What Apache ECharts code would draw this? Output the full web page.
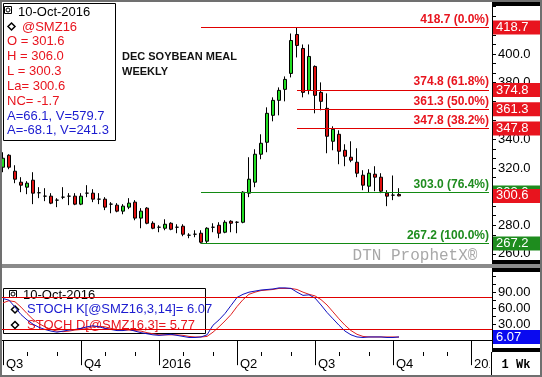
<!DOCTYPE html>
<html>
<head>
<meta charset="utf-8">
<script src="https://cdn.jsdelivr.net/npm/echarts@6/dist/echarts.min.js"></script>
<style>
  html, body { margin: 0; padding: 0; background: #fff; }
  #chart { width: 542px; height: 377px; }
</style>
</head>
<body>
<div id="chart"></div>
<script>
// weekly bars, first week starting Monday 6-Jul-2015
const firstWeek = [2015, 6, 6]
const weekCount = 82

// [open, high, low, close]
const ohlc = [
  [320.7, 331.2, 317.2, 327.0], [329.1, 329.8, 319.3, 320.7], [317.9, 322.1, 309.5, 312.3],
  [310.2, 313.7, 303.2, 308.1], [306.7, 310.9, 301.8, 309.5], [311.6, 317.2, 294.8, 302.5],
  [302.8, 306.7, 299.0, 302.8], [300.4, 306.0, 296.9, 300.4], [300.4, 302.5, 294.8, 295.5],
  [297.6, 299.0, 292.7, 297.6], [299.7, 306.7, 298.3, 299.7], [300.4, 302.5, 294.1, 300.4],
  [300.4, 302.5, 294.1, 294.8], [294.8, 302.5, 294.1, 300.4], [302.5, 308.1, 299.7, 302.5],
  [302.5, 305.3, 296.2, 298.3], [298.3, 302.5, 294.8, 298.3], [298.3, 299.7, 290.6, 292.7],
  [294.8, 296.2, 288.4, 294.8], [294.1, 295.5, 289.1, 289.9], [289.9, 294.8, 287.7, 293.4],
  [292.7, 299.0, 291.3, 295.5], [296.2, 297.6, 283.5, 285.0], [285.0, 292.0, 277.9, 289.9],
  [292.0, 292.7, 280.7, 281.4], [281.4, 282.8, 277.2, 277.9], [278.6, 280.0, 275.1, 278.6],
  [277.9, 284.2, 276.5, 280.7], [281.4, 282.1, 276.5, 277.2], [278.6, 280.7, 274.4, 278.6],
  [279.3, 280.7, 272.3, 273.7], [273.0, 274.4, 270.9, 273.0], [273.7, 276.5, 271.6, 273.7],
  [274.4, 276.5, 267.2, 268.1], [268.8, 278.6, 267.4, 277.9], [278.6, 281.4, 275.1, 278.6],
  [280.0, 282.1, 270.9, 274.4], [275.1, 283.5, 274.4, 282.1], [282.8, 283.5, 275.1, 281.4],
  [282.1, 282.8, 274.4, 282.1], [282.1, 303.9, 281.4, 303.2], [302.5, 327.7, 299.7, 312.3],
  [310.2, 333.3, 306.7, 329.8], [329.8, 343.8, 326.3, 337.5], [338.2, 362.7, 331.2, 358.5],
  [357.1, 369.7, 352.9, 367.6], [367.6, 376.7, 357.1, 374.6], [375.3, 384.4, 366.9, 382.3],
  [386.5, 414.5, 383.7, 409.6], [413.8, 418.7, 397.7, 406.1], [404.0, 406.8, 369.7, 373.2],
  [374.6, 406.8, 371.8, 398.4], [391.4, 392.1, 358.5, 371.1], [373.2, 380.2, 360.6, 366.9],
  [362.0, 372.5, 330.5, 342.4], [338.9, 349.4, 332.6, 347.3], [343.8, 346.6, 322.8, 331.9],
  [332.6, 336.8, 321.4, 328.4], [327.7, 338.9, 324.2, 325.6], [324.2, 334.0, 313.7, 316.5],
  [315.1, 318.6, 304.6, 308.1], [307.4, 319.3, 303.2, 316.5], [315.8, 321.4, 303.9, 313.7],
  [313.7, 316.5, 302.5, 303.9], [302.5, 304.6, 293.4, 300.4], [301.1, 314.9, 297.6, 301.1],
  [301.6, 306.0, 300.3, 300.6]
]

const stochK = [
  78, 75, 62, 48, 38, 30, 24, 20, 17, 15, 17, 19, 20, 22, 25, 27, 25, 22, 20, 18,
  18, 20, 17, 14, 12, 10, 9, 10, 11, 9, 7, 5, 5, 6, 10, 28, 38, 50, 65, 80,
  86, 90, 92, 94, 95, 96, 98, 98, 97, 90, 84, 85, 79, 66, 52, 40, 28, 17, 10, 6,
  5, 6, 6, 6, 5, 5, 6.07
]
const stochD = [
  70, 74, 72, 62, 50, 39, 31, 25, 20, 17, 16, 17, 19, 20, 22, 25, 26, 25, 22, 20,
  19, 19, 18, 17, 14, 12, 10, 10, 10, 10, 9, 7, 6, 6, 7, 15, 25, 36, 48, 63,
  76, 86, 90, 93, 94, 95, 97, 97, 97, 95, 90, 86, 83, 76, 66, 53, 40, 28, 18, 11,
  7, 6, 6, 6, 6, 6, 5.77
]

const fibLevels = [418.7, 374.8, 361.3, 347.8, 303.0, 267.2]
const fibPercents = ['0.0%', '61.8%', '50.0%', '38.2%', '76.4%', '100.0%']
const fibStart = [33, 49, 49, 49, 33, 33]
const lastPrice = 300.6
const stochLast = 6.07
const stochBands = [80, 20]

const priceLabels = [260, 280, 300, 320, 340, 360, 380, 400]
const stochLabels = [0, 30, 60, 90]
const quarterIdx = [0, 13, 26, 39, 52, 65, 78]
const quarterLabels = ['Q3', 'Q4', '2016', 'Q2', 'Q3', 'Q4', '2017']

const quoteLines = ['O = 301.6', 'H = 306.0', 'L = 300.3', 'La= 300.6', 'NC= -1.7']
const studyLines = ['A=66.1, V=579.7', 'A=-68.1, V=241.3']

const RED = '#e8141e'
const LINE_RED = '#e00000'
const GREEN = '#1e8c1e'
const LINE_GREEN = '#138a13'
const BLUE = '#1c1cd0'
const FONT = '"Liberation Sans", Arial, sans-serif'
const NONE = 'rgba(255,255,255,0)'

const weeks = []
const monthStart = []
for (let i = 0; i < weekCount; i++) {
  const d = new Date(firstWeek[0], firstWeek[1], firstWeek[2] + 7 * i)
  weeks.push(d.toISOString().slice(0, 10))
  const prev = new Date(firstWeek[0], firstWeek[1], firstWeek[2] + 7 * (i - 1))
  monthStart.push(i === 0 || prev.getMonth() !== d.getMonth())
}

// three minor ticks per 20-point label step on the price scale
const priceTicks = []
for (let k = 0; k <= 27; k++) priceTicks.push(260 + k * 20 / 3)

const candleData = ohlc.map(d => {
  const item = { value: [d[0], d[3], d[2], d[1]] }
  if (Math.abs(d[0] - d[3]) < 0.05) {
    item.itemStyle = { color: '#000', color0: '#000', borderColor: '#000', borderColor0: '#000' }
  }
  return item
})

function boxLabel(bg, text) {
  return {
    show: true,
    position: 'end',
    distance: 4,
    formatter: text,
    backgroundColor: bg,
    color: '#fff',
    fontFamily: FONT,
    fontSize: 13,
    lineHeight: 14,
    width: 42,
    padding: [0, 2, 0, 3],
    align: 'left'
  }
}

// a pair of markLine points running from a start bar to the right edge
function levelLine(start, v, lineColor, label) {
  const style = { color: lineColor, width: 1, type: 'solid', opacity: 1 }
  return [
    { coord: [start, v], lineStyle: style, label: label },
    { coord: [weekCount - 1, v], lineStyle: style, label: label }
  ]
}

const fibLines = []
const fibBoxes = []
fibLevels.forEach((v, k) => {
  fibLines.push(levelLine(fibStart[k], v, k < 4 ? LINE_RED : LINE_GREEN, {
    show: true, position: 'insideEndTop', distance: [0, 2],
    formatter: v.toFixed(1) + ' (' + fibPercents[k] + ')',
    color: k < 4 ? RED : GREEN, fontFamily: FONT, fontSize: 12, fontWeight: 'bold'
  }))
  fibBoxes.push(levelLine(fibStart[k], v, NONE, boxLabel(k < 4 ? RED : GREEN, v.toFixed(1))))
})
fibBoxes.push(levelLine(ohlc.length - 1, lastPrice, NONE, boxLabel(RED, lastPrice.toFixed(1))))

const stochLines = stochBands.map(v => ({ yAxis: v, lineStyle: { color: LINE_RED, width: 1, type: 'solid' } }))
stochLines.push({ yAxis: 0, lineStyle: { color: '#000', width: 1, type: [4, 3] } })
stochLines.push(levelLine(stochK.length - 1, stochLast, NONE, boxLabel('#0a0af0', stochLast.toFixed(2))))

const chart = echarts.init(document.getElementById('chart'))

const option = {
  animation: false,
  backgroundColor: '#fff',
  textStyle: { fontFamily: FONT },
  grid: [
    { left: 0, top: 4, width: 492, height: 260 },
    { left: 0, top: 270, width: 492, height: 82 }
  ],
  xAxis: [
    {
      type: 'category', gridIndex: 0, data: weeks, boundaryGap: true,
      axisLine: { show: false }, axisTick: { show: false }, axisLabel: { show: false }
    },
    {
      type: 'category', gridIndex: 1, data: weeks, boundaryGap: true,
      axisLine: { show: true, lineStyle: { color: '#000', width: 1 } },
      axisTick: {
        show: true, alignWithLabel: true, length: 25,
        interval: i => quarterIdx.includes(i),
        lineStyle: { color: '#000' }
      },
      axisLabel: {
        show: true,
        interval: i => quarterIdx.includes(i),
        formatter: (v, i) => quarterLabels[quarterIdx.indexOf(i)],
        align: 'left', padding: [0, 0, 0, 3], margin: 6,
        color: '#000', fontSize: 13, fontFamily: FONT
      }
    },
    {
      type: 'category', gridIndex: 1, data: weeks, boundaryGap: true, position: 'bottom',
      axisLine: { show: false },
      axisTick: {
        show: true, alignWithLabel: true, length: 4,
        interval: i => monthStart[i],
        lineStyle: { color: '#000' }
      },
      axisLabel: { show: false }
    }
  ],
  yAxis: [
    {
      type: 'value', gridIndex: 0, position: 'right', min: 252.82, max: 435.18,
      splitLine: { show: false },
      axisLine: { show: true, lineStyle: { color: '#000' } },
      axisTick: { show: true, length: 4, lineStyle: { color: '#000' }, customValues: priceTicks },
      axisLabel: {
        customValues: priceLabels, formatter: v => v.toFixed(1),
        color: '#000', fontSize: 13, fontFamily: FONT, margin: 6
      }
    },
    {
      type: 'value', gridIndex: 1, position: 'right', min: -22.19, max: 131.56,
      splitLine: { show: false },
      axisLine: { show: true, lineStyle: { color: '#000' } },
      axisTick: { show: true, length: 4, lineStyle: { color: '#000' }, customValues: [0, 15, 30, 45, 60, 75, 90, 105, 120] },
      axisLabel: {
        customValues: stochLabels, formatter: v => v.toFixed(2),
        color: '#000', fontSize: 13, fontFamily: FONT, margin: 6
      }
    }
  ],
  series: [
    {
      name: '@SMZ16',
      type: 'candlestick',
      xAxisIndex: 0, yAxisIndex: 0,
      clip: false,
      data: candleData,
      barWidth: 4,
      itemStyle: {
        color: '#22dd22', color0: '#e01010',
        borderColor: '#000', borderColor0: '#000', borderWidth: 1
      },
      markLine: {
        silent: true, symbol: 'none', animation: false,
        data: fibLines
      }
    },
    {
      // carries only the price boxes on the right-hand scale
      name: 'price boxes',
      type: 'line',
      xAxisIndex: 0, yAxisIndex: 0,
      clip: false,
      data: [],
      markLine: {
        silent: true, symbol: 'none', animation: false,
        data: fibBoxes
      }
    },
    {
      name: 'STOCH D',
      type: 'line',
      xAxisIndex: 1, yAxisIndex: 1,
      clip: false,
      data: stochD,
      showSymbol: false,
      lineStyle: { color: '#e02020', width: 1 },
      markLine: { silent: true, symbol: 'none', animation: false, label: { show: false }, data: stochLines }
    },
    {
      name: 'STOCH K',
      type: 'line',
      xAxisIndex: 1, yAxisIndex: 1,
      data: stochK,
      showSymbol: false,
      lineStyle: { color: '#1010c0', width: 1 }
    }
  ],
  graphic: [
    // separators and frame
    { type: 'rect', shape: { x: 0, y: 264, width: 542, height: 4 }, style: { fill: '#8a8a8a' }, z: 50 },
    { type: 'rect', shape: { x: 492, y: 1, width: 50, height: 5 }, style: { fill: '#000' }, z: 50 },
    { type: 'rect', shape: { x: 492, y: 260, width: 50, height: 4 }, style: { fill: '#000' }, z: 50 },
    { type: 'rect', shape: { x: 492, y: 268, width: 50, height: 4 }, style: { fill: '#000' }, z: 50 },
    { type: 'rect', shape: { x: 492, y: 348, width: 50, height: 4 }, style: { fill: '#000' }, z: 50 },
    { type: 'rect', shape: { x: 490, y: 352.5, width: 52, height: 25 }, style: { fill: '#fff', stroke: null }, z: 50 },
    { type: 'line', shape: { x1: 491.5, y1: 352, x2: 491.5, y2: 377 }, style: { stroke: '#000', lineWidth: 1 }, z: 51 },
    {
      type: 'text', x: 516, y: 365, z: 51,
      style: { text: '1 Wk', font: 'bold 12px "Liberation Mono", monospace', fill: '#000', align: 'center', verticalAlign: 'middle' }
    },
    { type: 'rect', shape: { x: 1, y: 1, width: 540, height: 375 }, style: { fill: null, stroke: '#707070', lineWidth: 2 }, z: 60 },

    // title
    {
      type: 'text', x: 122, y: 57, z: 40,
      style: { text: 'DEC SOYBEAN MEAL', font: 'bold 11px ' + FONT, fill: '#111', verticalAlign: 'middle' }
    },
    {
      type: 'text', x: 122, y: 72, z: 40,
      style: { text: 'WEEKLY', font: 'bold 11px ' + FONT, fill: '#111', verticalAlign: 'middle' }
    },
    {
      type: 'text', x: 415, y: 256, z: 5,
      style: { text: 'DTN ProphetX\u00ae', font: '16px "Liberation Mono", monospace', fill: '#a8a8a8', align: 'center', verticalAlign: 'middle' }
    },

    // quote box
    {
      type: 'group', z: 70,
      children: [
        { type: 'rect', shape: { x: 3.5, y: 3.5, width: 112, height: 137 }, style: { fill: '#fff', stroke: '#000', lineWidth: 1 } },
        { type: 'rect', shape: { x: 4.5, y: 6.5, width: 7, height: 7 }, style: { fill: '#fff', stroke: '#000', lineWidth: 1 } },
        { type: 'circle', shape: { cx: 8, cy: 10, r: 2 }, style: { fill: null, stroke: '#000', lineWidth: 1 } },
        { type: 'text', x: 18, y: 12.5, style: { text: '10-Oct-2016', font: '13px ' + FONT, fill: '#000', verticalAlign: 'middle' } },
        { type: 'polygon', shape: { points: [[11.5, 23], [15, 26.5], [11.5, 30], [8, 26.5]] }, style: { fill: '#fff', stroke: '#000', lineWidth: 1.5 } },
        { type: 'text', x: 22, y: 27, style: { text: '@SMZ16', font: '13px ' + FONT, fill: RED, verticalAlign: 'middle' } }
      ].concat(
        quoteLines.map((t, k) => ({ type: 'text', x: 7, y: 41.8 + k * 14.8, style: { text: t, font: '13px ' + FONT, fill: RED, verticalAlign: 'middle' } })),
        studyLines.map((t, k) => ({ type: 'text', x: 7, y: 116 + k * 14.8, style: { text: t, font: '13px ' + FONT, fill: BLUE, verticalAlign: 'middle' } }))
      )
    },

    // stochastic legend
    {
      type: 'group', z: 70,
      children: [
        { type: 'rect', shape: { x: 3.5, y: 288.5, width: 202, height: 45 }, style: { fill: 'rgba(255,255,255,0.72)', stroke: '#000', lineWidth: 1 } },
        { type: 'rect', shape: { x: 9.5, y: 290.5, width: 7, height: 7 }, style: { fill: 'rgba(255,255,255,0.6)', stroke: '#000', lineWidth: 1 } },
        { type: 'circle', shape: { cx: 13, cy: 294, r: 2 }, style: { fill: null, stroke: '#000', lineWidth: 1 } },
        { type: 'text', x: 23, y: 295, style: { text: '10-Oct-2016', font: '13px ' + FONT, fill: '#000', verticalAlign: 'middle' } },
        { type: 'polygon', shape: { points: [[15, 306], [18.5, 309.5], [15, 313], [11.5, 309.5]] }, style: { fill: '#fff', stroke: '#000', lineWidth: 1.5 } },
        { type: 'text', x: 27, y: 309.5, style: { text: 'STOCH K[@SMZ16,3,14]= 6.07', font: '13px ' + FONT, fill: BLUE, verticalAlign: 'middle' } },
        { type: 'polygon', shape: { points: [[15, 321.5], [18.5, 325], [15, 328.5], [11.5, 325]] }, style: { fill: '#fff', stroke: '#000', lineWidth: 1.5 } },
        { type: 'text', x: 27, y: 325, style: { text: 'STOCH D[@SMZ16,3]= 5.77', font: '13px ' + FONT, fill: RED, verticalAlign: 'middle' } }
      ]
    }
  ]
}

chart.setOption(option)
</script>
</body>
</html>
